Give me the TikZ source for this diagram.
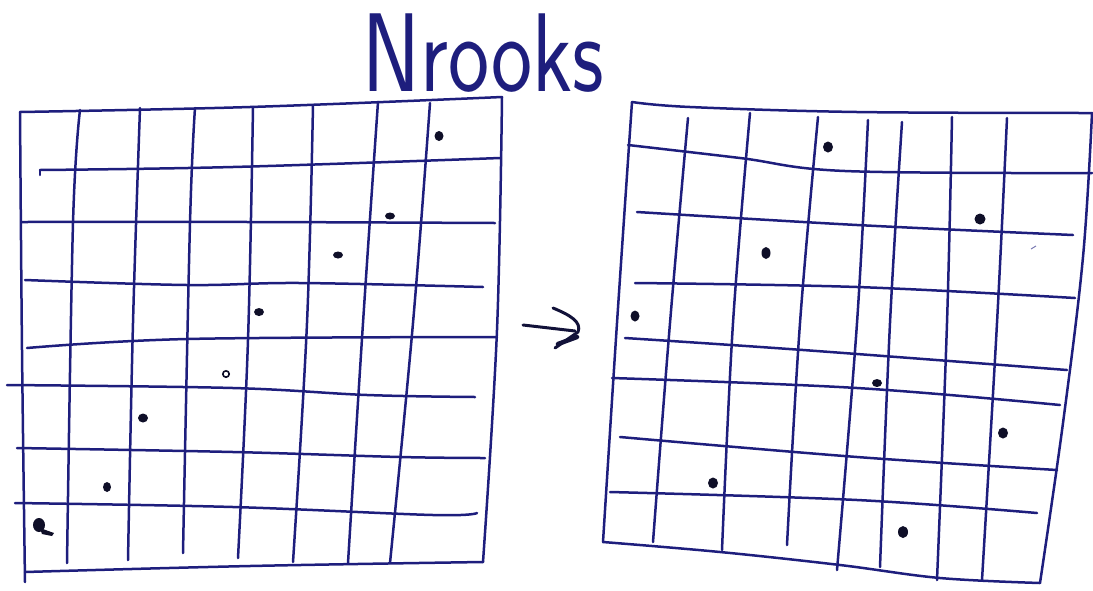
\documentclass[tikz,border=0pt]{standalone}
\usepackage{fontspec}
\definecolor{ink}{RGB}{30,30,125}
\definecolor{dotink}{RGB}{15,15,40}
\begin{document}
\begin{tikzpicture}[x=1pt,y=-1pt,
  pen/.style={draw=ink,line width=2.5pt,line cap=round,line join=round},
  rook/.style={fill=dotink},
  arrowpen/.style={draw=dotink!80!ink,line width=3pt,line cap=round,line join=round}]
\useasboundingbox (0,0) rectangle (1093,590);
% title
\node[font=\fontsize{112}{112}\selectfont\sffamily, text=ink, inner sep=0pt, anchor=base west, xscale=0.78] (title) at (362,91) {Nrooks};
% ---------- left board ----------
\draw[pen] plot[smooth,tension=0.6] coordinates {(20,112) (250,107) (502,97)};
\draw[pen] plot[smooth,tension=0.6] coordinates {(502,97) (497,330) (483,562)};
\draw[pen] plot[smooth,tension=0.6] coordinates {(483,562) (250,566) (25,572)};
\draw[pen] plot[smooth,tension=0.6] coordinates {(25,582) (22,350) (20,112)};
% verticals
\draw[pen] plot[smooth,tension=0.6] coordinates {(80,110) (73,223) (67,563)};
\draw[pen] plot[smooth,tension=0.6] coordinates {(140,108) (133,323) (128,560)};
\draw[pen] plot[smooth,tension=0.6] coordinates {(195,108) (190,223) (183,553)};
\draw[pen] plot[smooth,tension=0.6] coordinates {(253,107) (248,340) (238,558)};
\draw[pen] plot[smooth,tension=0.6] coordinates {(313,105) (307,323) (293,562)};
\draw[pen] plot[smooth,tension=0.6] coordinates {(378,102) (363,323) (348,563)};
\draw[pen] plot[smooth,tension=0.6] coordinates {(430,103) (413,323) (390,563)};
% horizontals
\draw[pen] (40,175) -- (40,170);
\draw[pen] plot[smooth,tension=0.6] coordinates {(40,170) (233,167) (500,158)};
\draw[pen] plot[smooth,tension=0.6] coordinates {(22,222) (250,222) (495,223)};
\draw[pen] plot[smooth,tension=0.6] coordinates {(25,280) (187,285) (300,283) (483,287)};
\draw[pen] plot[smooth,tension=0.6] coordinates {(27,348) (187,339) (497,337)};
\draw[pen] plot[smooth,tension=0.6] coordinates {(7,385) (233,388) (367,395) (475,397)};
\draw[pen] plot[smooth,tension=0.6] coordinates {(17,448) (233,452) (400,457) (485,458)};
\draw[pen] plot[smooth,tension=0.6] coordinates {(15,503) (233,507) (433,515) (477,513)};
% rooks
\fill[rook] (439,136) ellipse (4.5 and 5);
\fill[rook] (390,216) ellipse (5 and 3.5);
\fill[rook] (338,255) ellipse (5 and 3.5);
\fill[rook] (259,312) ellipse (5 and 4);
\draw[draw=dotink,line width=1.6pt] (226,374) ellipse (3.2 and 3.2);
\fill[rook] (143,418) ellipse (5 and 4.5);
\fill[rook] (107,487) ellipse (4 and 5);
\fill[rook] (39,525) ellipse (6 and 7);
\fill[rook] (40,528) -- (54,533) -- (52,536) -- (42,534) -- cycle;
% ---------- arrow ----------
\draw[arrowpen] (523,325) -- (575,331);
\draw[arrowpen] (553,308) .. controls (570,315) and (582,322) .. (578,332) -- (555,348);
\draw[arrowpen, line width=4.5pt] (558,344) -- (577,337);
% ---------- right board ----------
\draw[pen] plot[smooth,tension=0.6] coordinates {(632,102) (690,107) (857,112) (1092,113)};
\draw[pen] plot[smooth,tension=0.6] coordinates {(1092,113) (1083,257) (1063,423) (1040,583)};
\draw[pen] plot[smooth,tension=0.6] coordinates {(603,542) (720,552) (840,565) (940,578) (1040,583)};
\draw[pen] plot[smooth,tension=0.6] coordinates {(632,102) (617,323) (603,542)};
% verticals
\draw[pen] plot[smooth,tension=0.6] coordinates {(688,118) (670,323) (653,542)};
\draw[pen] plot[smooth,tension=0.6] coordinates {(750,113) (733,323) (722,550)};
\draw[pen] plot[smooth,tension=0.6] coordinates {(818,117) (800,323) (787,545)};
\draw[pen] plot[smooth,tension=0.6] coordinates {(868,120) (857,323) (837,570)};
\draw[pen] plot[smooth,tension=0.6] coordinates {(902,122) (890,323) (880,567)};
\draw[pen] plot[smooth,tension=0.6] coordinates {(952,117) (947,323) (937,580)};
\draw[pen] plot[smooth,tension=0.6] coordinates {(1007,118) (997,323) (982,580)};
% horizontals
\draw[pen] plot[smooth,tension=0.6] coordinates {(628,145) (740,158) (845,171) (1092,173)};
\draw[pen] plot[smooth,tension=0.6] coordinates {(637,212) (857,225) (1073,235)};
\draw[pen] plot[smooth,tension=0.6] coordinates {(635,283) (857,287) (1075,298)};
\draw[pen] plot[smooth,tension=0.6] coordinates {(625,338) (803,350) (1067,370)};
\draw[pen] plot[smooth,tension=0.6] coordinates {(612,378) (857,388) (1060,405)};
\draw[pen] plot[smooth,tension=0.6] coordinates {(620,437) (857,457) (1057,470)};
\draw[pen] plot[smooth,tension=0.6] coordinates {(610,492) (857,500) (1037,513)};
% rooks
\fill[rook] (828,147) ellipse (5 and 5.5);
\fill[rook] (980,219) ellipse (5.5 and 5.5);
\fill[rook] (766,253) ellipse (4.5 and 6);
\fill[rook] (635,316) ellipse (4.5 and 5.5);
\fill[rook] (877,383) ellipse (5 and 4);
\fill[rook] (1003,433) ellipse (5 and 5.5);
\fill[rook] (713,483) ellipse (5 and 5.5);
\fill[rook] (903,532) ellipse (5 and 6);
\draw[draw=ink!60,line width=1pt] (1031,249) -- (1036,246);
\end{tikzpicture}
\end{document}
